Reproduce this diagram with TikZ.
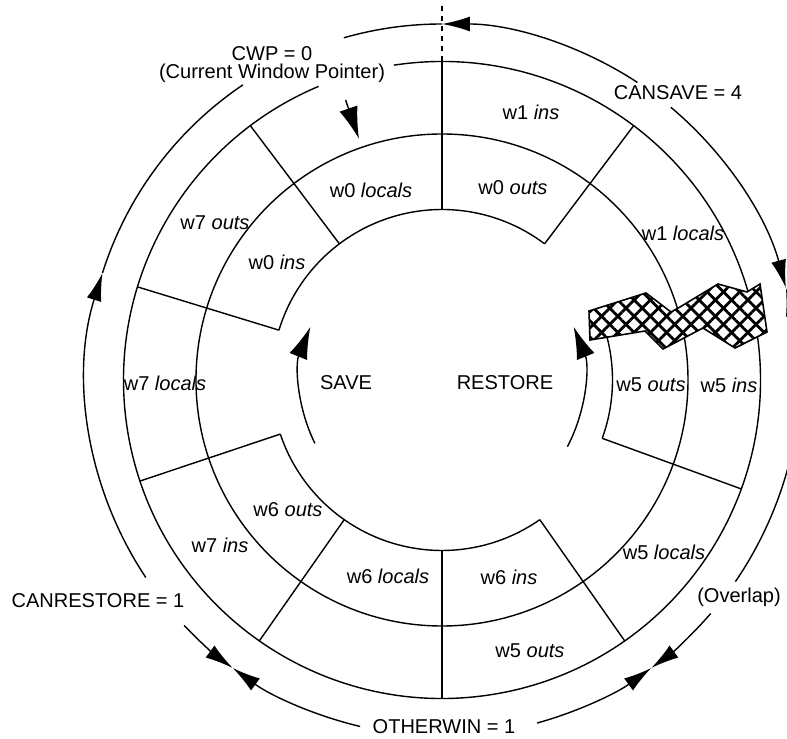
\documentclass[tikz,border=0pt]{standalone}
\usepackage{fontspec}
\setmainfont{Liberation Sans}
\usetikzlibrary{arrows.meta}
\usetikzlibrary{patterns.meta}
\newcommand{\regfont}{\fontsize{11.4}{13}\selectfont}
\tikzstyle{ring} = [line width=0.8pt]
\tikzstyle{reg} = [inner sep=0pt, font=\regfont]
\tikzstyle{tipstart} = [ring, {Latex[length=0.56cm,width=0.3cm]}-]
\tikzstyle{tipend} = [ring, -{Latex[length=0.56cm,width=0.3cm]}]
\tikzstyle{bigtip} = [ring, -{Latex[length=0.64cm,width=0.38cm]}]
\tikzstyle{hatch} = [fill=white, postaction={pattern={Lines[angle=45,distance=0.23cm,line width=1.6pt]}}, postaction={pattern={Lines[angle=-45,distance=0.23cm,line width=1.6pt]}}, postaction={draw, line width=0.9pt}]

\begin{document}
\begin{tikzpicture}[x=0.02cm, y=0.02cm]
	\useasboundingbox (-442,-359) rectangle (345,380);
	\clip (-442,-359) rectangle (345,380);
	\draw[ring] (0,0) circle[radius=246];
	\draw[ring] (98.7:318.5) arc[start angle=98.7, end angle=-247.2, radius=318.5];
	\draw[ring] (53:170.5) arc[start angle=53, end angle=163, radius=170.5];
	\draw[ring] (198.5:170.5) arc[start angle=198.5, end angle=305, radius=170.5];
	\draw[ring] (-20:170.5) arc[start angle=-20, end angle=18, radius=170.5];
	\draw[ring] (53:170.5) -- (53:318.5);
	\draw[ring] (90:170.5) -- (90:318.5);
	\draw[ring] (127:170.5) -- (127:318.5);
	\draw[ring] (163:170.5) -- (163:318.5);
	\draw[ring] (198.5:170.5) -- (198.5:318.5);
	\draw[ring] (235:170.5) -- (235:318.5);
	\draw[ring] (270:170.5) -- (270:318.5);
	\draw[ring] (305:170.5) -- (305:318.5);
	\draw[ring] (340:170.5) -- (340:318.5);
	\draw[ring, dash pattern=on 0.1cm off 0.1cm] (90:318.5) -- (90:376);
	\path[hatch] (147,69) -- (204,87) -- (229,68) -- (238,73) -- (276,96) -- (305,88) -- (318,96) -- (325,48) -- (293,32) -- (261,52) -- (221,31) -- (203,49) -- (148,40) -- cycle;

	\draw[tipstart] (234:356) arc[start angle=234, end angle=223.6, radius=356];
	\draw[tipend] (213.7:356) arc[start angle=213.7, end angle=162.5, radius=356];
	\draw[ring] (162.5:356) arc[start angle=162.5, end angle=124, radius=356];
	\draw[ring] (106:356) arc[start angle=106, end angle=90, radius=356];
	\draw[tipstart] (90:356) arc[start angle=90, end angle=56.7, radius=356];
	\draw[tipend] (50:356) arc[start angle=50, end angle=15, radius=356];
	\draw[tipstart] (15:356) arc[start angle=15, end angle=-34.5, radius=356];
	\draw[tipend] (-41:356) arc[start angle=-41, end angle=-54, radius=356];
	\draw[tipstart] (-54:356) arc[start angle=-54, end angle=-74.5, radius=356];
	\draw[tipend] (-103.3:356) arc[start angle=-103.3, end angle=-126, radius=356];

	\draw[bigtip] (206.5:142) arc[start angle=206.5, end angle=158, radius=142];
	\draw[bigtip] (-28:142) arc[start angle=-28, end angle=22, radius=142];
	\coordinate (cwptail) at (109:296);
	\coordinate (cwptip) at (109:255);
	\draw[bigtip] (cwptail) -- (cwptip);

	\node[reg] (cwp) at (-170,326) {CWP = 0};
	\node[reg] (cwpname) at (-170,307) {(Current Window Pointer)};
	\node[reg] (cansave) at (236,287) {CANSAVE = 4};
	\node[reg] (canrestore) at (-344,-221) {CANRESTORE = 1};
	\node[reg] (otherwin) at (2,-347) {OTHERWIN = 1};
	\node[reg] (overlap) at (297,-217) {(Overlap)};
	\node[reg] (save) at (-96,-3) {SAVE};
	\node[reg] (restore) at (63,-3) {RESTORE};

	\node[reg] (wzl) at (-71,190) {w0 \textit{locals}};
	\node[reg] (wzo) at (71,192) {w0 \textit{outs}};
	\node[reg] (wzi) at (-165,118) {w0 \textit{ins}};
	\node[reg] (woi) at (89,268) {w1 \textit{ins}};
	\node[reg] (wol) at (241,147) {w1 \textit{locals}};
	\node[reg] (wso) at (-227,157) {w7 \textit{outs}};
	\node[reg] (wsl) at (-277,-3) {w7 \textit{locals}};
	\node[reg] (wsi) at (-222,-165) {w7 \textit{ins}};
	\node[reg] (wxo) at (-154,-130) {w6 \textit{outs}};
	\node[reg] (wxl) at (-54,-196) {w6 \textit{locals}};
	\node[reg] (wxi) at (67,-197) {w6 \textit{ins}};
	\node[reg] (wfo) at (209,-5) {w5 \textit{outs}};
	\node[reg] (wfi) at (287,-5) {w5 \textit{ins}};
	\node[reg] (wfl) at (222,-172) {w5 \textit{locals}};
	\node[reg] (wfob) at (88,-271) {w5 \textit{outs}};
\end{tikzpicture}
\end{document}
